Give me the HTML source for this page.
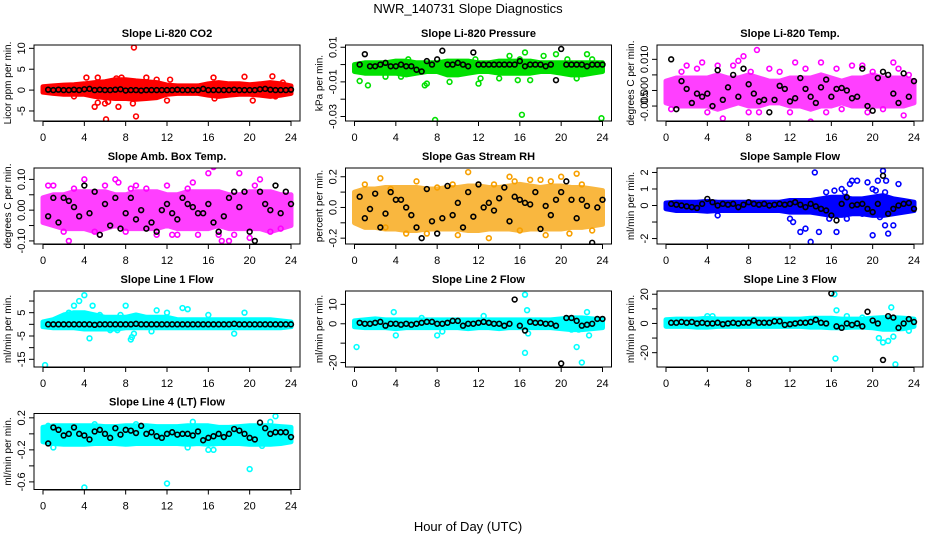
<!DOCTYPE html>
<html><head><meta charset="utf-8">
<style>
html,body{margin:0;padding:0;background:#fff;}
svg{display:block;font-family:"Liberation Sans",Arial,sans-serif;}
</style></head>
<body>
<svg id="chart" width="936" height="540" viewBox="0 0 936 540" xmlns="http://www.w3.org/2000/svg">
<text x="468" y="13" text-anchor="middle" font-size="13">NWR_140731  Slope Diagnostics</text>
<text x="468" y="531" text-anchor="middle" font-size="13">Hour of Day (UTC)</text>
</svg>
<script>
const bandHours=[0,1,2,3,4,5,6,7,8,9,10,11,12,13,14,15,16,17,18,19,20,21,22,23,24];
const blkHours=[0.5,1,1.5,2,2.5,3,3.5,4,4.5,5,5.5,6,6.5,7,7.5,8,8.5,9,9.5,10,10.5,11,11.5,12,12.5,13,13.5,14,14.5,15,15.5,16,16.5,17,17.5,18,18.5,19,19.5,20,20.5,21,21.5,22,22.5,23,23.5,24];
const xTicks=[0,4,8,12,16,20,24];

const co2Hi=[0.8,1,1.2,1.3,1.5,1.8,2,2.5,2.5,2.2,2,1.8,1.2,1,1,1,1.5,1.8,1.5,1.5,1.3,1.5,1.8,1.5,1];
const co2Lo=[-0.5,-0.8,-1,-1,-1,-1.5,-1.8,-2,-2,-2.2,-2,-1.8,-1,-0.8,-0.8,-0.8,-1.2,-1.5,-1.2,-1,-1,-1.2,-1.5,-1.2,-0.8];
const co2Pts=[[4.2,3],[5,-4],[5.3,3],[5.3,-3],[6,-3.2],[6.1,-7],[6.3,-2.8],[7.1,2.8],[7.3,-4],[7.6,3],[8.8,10.2],[9,-6.3],[8.7,-3.2],[10,3],[11,2.5],[12,-2.5],[12.3,2.5],[16.5,3],[16.6,-2],[19.5,3.2],[20.3,-2.5],[22.2,3.3],[22.5,-1.5],[23.2,1.8],[3,-1.5]];
const co2Blk=[0.1,0,0.1,0,0,0.1,0,0.2,0.3,0,0.1,0,0,0.1,0.2,-0.1,0,0,-0.1,0,0,0,0,0,0,0.1,0,0,0,0,0.3,0,0,0,0,0,0.1,0,0,0,0,0.2,0.3,0.1,0,0,0,0.1];

const presHi=[0,0.001,0.001,0.001,0.002,0.002,0.001,0.001,0.001,0.002,0.002,0.002,0.001,0.001,0.002,0.002,0.002,0.002,0.001,0.001,0.001,0.001,0.001,0.001,0.001];
const presLo=[-0.004,-0.005,-0.005,-0.005,-0.005,-0.006,-0.005,-0.004,-0.004,-0.006,-0.006,-0.005,-0.004,-0.004,-0.005,-0.005,-0.005,-0.005,-0.004,-0.004,-0.005,-0.006,-0.006,-0.005,-0.004];
const presPts=[[0.3,-0.003],[0.5,-0.0095],[1.3,-0.012],[2.5,-0.004],[3,-0.007],[4.5,-0.007],[5.2,0.003],[6.8,-0.012],[7,-0.011],[7.8,-0.032],[8.2,0.001],[9.2,-0.01],[9.5,-0.005],[11.7,0.003],[12,-0.011],[12.2,-0.008],[14,-0.008],[15,0.005],[15.8,-0.009],[16,0.003],[16.2,-0.029],[16.5,0.007],[17,-0.009],[18.3,0.005],[19.5,0.006],[20.6,0.003],[21.5,-0.008],[22.5,0.006],[23,0.003],[23.9,-0.031]];
const presBlk=[0,0.006,-0.001,-0.001,0,0.001,-0.001,-0.001,0,-0.001,-0.001,-0.003,-0.004,0.002,0,0.003,0.008,0,0,0.001,0,-0.001,0.007,0,0,0,0,0,0,0,0,0.002,-0.001,0,0,0,-0.001,0,-0.009,0.009,0,0,0,0,-0.001,0,0,0];

const tempHi=[0.003,0.004,0.004,0.004,0.004,0.005,0.004,0.004,0.005,0.004,0.003,0.003,0.004,0.004,0.004,0.005,0.004,0.003,0.004,0.004,0.005,0.004,0.004,0.004,0.003];
const tempLo=[-0.004,-0.005,-0.005,-0.005,-0.005,-0.006,-0.005,-0.004,-0.005,-0.005,-0.004,-0.004,-0.005,-0.005,-0.006,-0.005,-0.005,-0.004,-0.005,-0.005,-0.005,-0.005,-0.005,-0.005,-0.004];
const tempPts=[[0.5,-0.006],[1.5,0.006],[2,0.008],[3,0.007],[3.5,0.009],[4,-0.007],[5,0.008],[5.5,-0.009],[6.5,0.008],[7,0.0095],[7.5,0.011],[8,-0.007],[8.2,0.006],[8.8,0.013],[9,-0.007],[10,0.007],[11,0.006],[12,-0.007],[12.5,0.009],[13.5,0.007],[14,-0.010],[15,0.009],[15.5,-0.007],[16.5,0.007],[17,-0.006],[18,0.008],[19,0.008],[19.5,-0.007],[20,0.006],[21,-0.006],[22,0.009],[22.5,0.007],[23,-0.008],[23.5,0.005]];
const tempBlk=[0.010,-0.006,0.003,0.0005,-0.004,-0.001,-0.002,-0.001,-0.005,0.0065,-0.003,0.001,0.005,-0.002,0.007,0.002,-0.001,-0.0035,-0.003,-0.007,-0.003,0.0015,0.0005,-0.0035,-0.0025,0.004,0.0005,-0.002,-0.004,0.001,0.0035,-0.002,0.0005,0.0008,0,-0.0025,-0.002,0.007,-0.005,-0.0065,0.004,0.006,0.005,-0.001,-0.004,0.0055,-0.002,0.003];

const ambHi=[0.04,0.05,0.05,0.06,0.06,0.06,0.06,0.05,0.05,0.06,0.06,0.06,0.05,0.05,0.06,0.06,0.06,0.06,0.05,0.05,0.06,0.06,0.06,0.05,0.05];
const ambLo=[-0.04,-0.05,-0.06,-0.06,-0.06,-0.07,-0.06,-0.05,-0.06,-0.06,-0.06,-0.06,-0.05,-0.06,-0.06,-0.06,-0.06,-0.05,-0.06,-0.06,-0.06,-0.06,-0.07,-0.06,-0.05];
const ambPts=[[0.5,0.08],[1,0.08],[2,-0.07],[2.5,-0.1],[4,0.1],[5,-0.07],[5.5,-0.08],[6,0.08],[7,0.1],[7.3,0.09],[8,-0.07],[9,0.08],[10,0.07],[11,-0.08],[12,0.08],[13,-0.08],[14,0.07],[14.5,0.09],[15,-0.08],[16,0.12],[16.5,0.14],[17,-0.08],[17.3,-0.1],[18,-0.1],[18.5,-0.08],[19,0.12],[20,-0.09],[21,0.1],[22,-0.07],[23,-0.06],[3,0.07],[8.5,0.07],[12.5,-0.08],[20.5,0.08]];
const ambBlk=[-0.02,0.04,-0.04,0.04,0.03,0.01,-0.02,0.08,-0.01,0.06,-0.08,0.02,-0.05,0.04,-0.06,-0.01,0.04,-0.03,0.0,-0.06,-0.04,-0.07,0.0,0.02,-0.01,-0.03,0.04,0.02,0.01,-0.01,-0.01,0.02,-0.04,-0.07,-0.02,0.04,0.06,0.01,0.06,-0.07,-0.1,0.06,0.02,0.0,0.08,-0.01,0.06,0.02];

const rhHi=[0.1,0.12,0.12,0.13,0.13,0.13,0.13,0.12,0.12,0.13,0.13,0.14,0.14,0.13,0.13,0.14,0.15,0.14,0.13,0.14,0.14,0.13,0.13,0.12,0.11];
const rhLo=[-0.1,-0.13,-0.13,-0.14,-0.14,-0.15,-0.15,-0.14,-0.14,-0.14,-0.14,-0.15,-0.15,-0.14,-0.14,-0.14,-0.15,-0.14,-0.14,-0.14,-0.14,-0.13,-0.13,-0.12,-0.11];
const rhPts=[[1,0.15],[2.5,0.19],[3,-0.13],[3.5,0.12],[6,0.17],[7,-0.17],[8,0.13],[9.5,0.15],[10,-0.18],[11,0.23],[12,0.15],[13,-0.2],[13.5,0.15],[15,0.2],[15.5,0.17],[16,-0.15],[17,0.18],[18,0.18],[18.5,-0.18],[20,0.2],[20.8,-0.17],[21.5,0.22],[22,0.15],[23,-0.15],[5,-0.17],[19,0.17]];
const rhBlk=[0.07,-0.07,-0.01,0.09,-0.13,-0.04,0.1,0.05,0.05,0.0,-0.05,-0.13,-0.2,0.12,-0.09,-0.17,-0.07,0.14,-0.05,0.03,-0.13,0.1,-0.06,0.15,0.0,0.03,-0.02,0.06,0.13,-0.09,0.07,0.05,0.03,0.02,0.1,-0.14,0.01,-0.05,0.05,0.1,0.17,0.05,-0.07,0.05,0.01,-0.23,0.0,0.05];

const flowHi=[0.15,0.2,0.2,0.2,0.25,0.2,0.2,0.2,0.2,0.2,0.2,0.2,0.3,0.3,0.3,0.4,0.5,0.5,0.4,0.4,0.5,0.6,0.4,0.3,0.2];
const flowLo=[-0.2,-0.3,-0.3,-0.3,-0.35,-0.3,-0.3,-0.3,-0.3,-0.3,-0.3,-0.3,-0.4,-0.4,-0.4,-0.5,-0.6,-0.6,-0.5,-0.5,-0.6,-0.6,-0.5,-0.4,-0.3];
const flowPts=[[12,-0.8],[12.3,-1],[13,-1.6],[13.5,-1.4],[14,-2.2],[14.4,2],[14.8,-1.6],[15.5,0.8],[16.3,0.9],[16.5,-1.6],[17,1],[17.3,0.8],[17.8,1.3],[18,1.5],[18.5,1.5],[17.5,-0.8],[19,-0.5],[19.5,1.4],[20,-1.8],[20,1],[20.3,0.9],[20.5,1.5],[21,2.1],[21.2,0.8],[21.3,1.5],[21.5,-1.7],[22,-1.2],[22.5,1.3],[21.2,-1.2],[20.7,-0.7],[15.8,-0.8],[5,-0.6]];
const flowBlk=[0.1,0.05,0,-0.05,-0.1,-0.15,0.1,0.4,0.2,0,0.1,0.05,0.1,-0.1,0.05,0.2,0.1,0.05,0.1,0,0.05,0.1,0.05,0.1,0.2,0.05,-0.1,0.1,-0.05,-0.2,-0.3,-0.6,-0.9,0.1,0.5,0,0.05,0.1,-0.2,-0.4,0.1,1.8,-0.5,-0.2,0,0.1,0.15,-0.2];

const l1Hi=[1,2,4,5,5,4,3,3,3,4,3,3,3,2,2,2,2,2,2,2,2,2,2,1.5,1];
const l1Lo=[-1,-1.5,-1.5,-1.5,-2,-2,-2,-2,-1.5,-1.5,-1.5,-1.5,-1.5,-1.5,-1.5,-1.5,-1.5,-1.5,-1.5,-1.5,-1.5,-1.5,-1.5,-1.5,-1];
const l1Pts=[[0.2,-17.5],[3.5,10],[4,12.5],[4.5,-6],[3,8],[4.8,8],[5.5,4],[7.5,4],[8,8],[8.5,-6.5],[8.6,-5.5],[8.8,-4],[10.5,-3],[11,6],[12,5],[13.5,7],[14,6.5],[16,4],[18.5,-4],[19.5,5],[7.2,-2.5],[2.5,5],[6.5,-2.5]];
const l1Blk=[0,0,0,0,0,0,0,0,0,-0.2,0,0,0,0,0,0,0,0.2,0,0,0,0,0,0,0,0,0,0,0,0,0,0,0,0,0,0,0.2,0,0,0,0,0,0,0,0,0,0,0];

const l2Hi=[1.5,2,2.5,2,2,2,2,2,2,2,2,2,2,2,2,2,2,2,2,2,2.5,3,3,2.5,2];
const l2Lo=[-1.5,-2,-2,-2,-2.5,-2,-2,-2,-2,-2,-2,-2.5,-2,-2,-2.5,-2,-2,-2,-2,-2,-2.5,-3,-3,-2.5,-2];
const l2Pts=[[0.2,-12],[3.8,6],[4,-6],[6.5,3],[8,-6],[8.5,-4],[16.5,15],[16.5,-15],[16.7,7],[16.8,-5],[21.5,-12],[21.7,-3],[22,-20],[22.5,6],[22.7,-6],[21,-3],[12.5,4]];
const l2Blk=[0.5,0,0,0.5,1,-1,0,0,-0.5,0,-0.5,0,0.5,1,1,0,0,0.5,1.5,1.5,-1,0,0,0.5,1,0.5,0,0,-1,0,12.5,-1,-3.5,1,0.5,0.5,0,0,-1,-20.5,3,3,1.5,-1,-0.5,0,2.5,2.5];

const l3Hi=[2.5,3,3,3,3.5,3,3,3,3,3,3,3,3,3,3.5,3.5,3.5,3,3,3,3.5,4,4,3.5,3];
const l3Lo=[-2,-2,-2,-2.5,-2.5,-2,-2,-2,-2,-2,-2,-2,-2,-2,-2.5,-2.5,-3,-3,-2.5,-2.5,-3,-4,-4,-3.5,-2];
const l3Pts=[[16.3,20],[16.4,-24],[16.5,9],[20.6,-10],[21,-13],[21.5,-12],[21.8,11],[22,-9],[22.2,-28],[4,5],[4.5,5],[23.5,-5],[17.5,5],[19,4]];
const l3Blk=[0.5,0.5,1,0.5,1,0,0.5,0,0,0.5,-0.5,0,0.5,0,0.5,0.5,2,0.5,0.5,0.5,1.5,1.5,-1,-0.5,0,0.5,0.5,1,2.5,0.5,0,20.5,-2,-3,0,-1,0,-2,8,2,0,-25,5,4,-3,0,3,1];

const l4Hi=[0.08,0.1,0.1,0.1,0.1,0.1,0.09,0.09,0.1,0.1,0.1,0.09,0.09,0.09,0.1,0.1,0.1,0.08,0.08,0.09,0.1,0.1,0.1,0.09,0.08];
const l4Lo=[-0.1,-0.12,-0.13,-0.13,-0.13,-0.12,-0.12,-0.12,-0.13,-0.12,-0.12,-0.12,-0.12,-0.12,-0.13,-0.12,-0.13,-0.12,-0.12,-0.12,-0.13,-0.13,-0.13,-0.12,-0.1];
const l4Pts=[[4,-0.67],[12,-0.62],[20,-0.44],[22.5,0.22],[22,0.15],[1,-0.17],[14.5,0.15],[16.5,-0.2],[16,-0.2],[14,-0.17],[21.2,-0.15],[9,0.12],[5,0.12],[0.5,0.1]];
const l4Blk=[-0.12,0.08,0.05,-0.02,0.0,0.08,0.0,-0.02,-0.07,0.03,0.05,0.0,-0.05,0.07,-0.01,0.05,0.04,0.01,0.1,0.0,0.02,-0.03,-0.05,0.0,0.02,-0.01,0.0,0.0,-0.02,0.03,-0.08,-0.05,-0.03,0.0,-0.04,0.0,0.06,0.04,0.0,-0.05,-0.07,0.14,0.07,0.0,0.02,0.02,0.02,-0.04];

const NS="http://www.w3.org/2000/svg";
const svg=document.getElementById('chart');
function mk(tag,attrs,parent){const e=document.createElementNS(NS,tag);for(const k in attrs)e.setAttribute(k,attrs[k]);(parent||svg).appendChild(e);return e;}

const colLeft=[34,345.5,657], rowTop=[45,168,291,413.5], boxW=266, boxH=76;
const panels=[
 {key:'co2',title:'Slope Li-820 CO2',ylab:'Licor ppm per min.',c:0,r:0,yMax:10.8,yMin:-7.4,ticks:[-5,0,5,10],labels:['-5','0','5','10'],col:'#ff0000',op:1,hi:co2Hi,lo:co2Lo,pts:co2Pts,blk:co2Blk},
 {key:'pressure',title:'Slope Li-820 Pressure',ylab:'kPa per min.',c:1,r:0,yMax:0.0113,yMin:-0.0326,ticks:[0.01,0,-0.01,-0.02,-0.03],labels:['0.01','','-0.01','','-0.03'],col:'#00e000',op:1,hi:presHi,lo:presLo,pts:presPts,blk:presBlk},
 {key:'temp',title:'Slope Li-820 Temp.',ylab:'degrees C per min.',c:2,r:0,yMax:0.0146,yMin:-0.0098,ticks:[0.01,0.005,0,-0.005],labels:['0.010','','0.000','-0.005'],col:'#ff00ff',op:0.75,hi:tempHi,lo:tempLo,pts:tempPts,blk:tempBlk},
 {key:'amb-temp',title:'Slope Amb. Box Temp.',ylab:'degrees C per min.',c:0,r:1,yMax:0.137,yMin:-0.110,ticks:[0.1,0.05,0,-0.05,-0.1],labels:['0.10','','0.00','','-0.10'],col:'#ff00ff',op:0.75,hi:ambHi,lo:ambLo,pts:ambPts,blk:ambBlk},
 {key:'rh',title:'Slope Gas Stream RH',ylab:'percent per min.',c:1,r:1,yMax:0.257,yMin:-0.238,ticks:[0.2,0.1,0,-0.1,-0.2],labels:['0.2','','0.0','','-0.2'],col:'#f7a000',op:0.75,hi:rhHi,lo:rhLo,pts:rhPts,blk:rhBlk},
 {key:'sample-flow',title:'Slope Sample Flow',ylab:'ml/min per min.',c:2,r:1,yMax:2.27,yMin:-2.33,ticks:[2,1,0,-1,-2],labels:['2','1','0','','-2'],col:'#0000ff',op:1,hi:flowHi,lo:flowLo,pts:flowPts,blk:flowBlk},
 {key:'line1',title:'Slope Line 1 Flow',ylab:'ml/min per min.',c:0,r:2,yMax:14.3,yMin:-18.3,ticks:[10,5,0,-5,-10,-15],labels:['','5','','-5','','-15'],col:'#00ffff',op:1,hi:l1Hi,lo:l1Lo,pts:l1Pts,blk:l1Blk},
 {key:'line2',title:'Slope Line 2 Flow',ylab:'ml/min per min.',c:1,r:2,yMax:16.9,yMin:-22.3,ticks:[10,0,-10,-20],labels:['10','0','','-20'],col:'#00ffff',op:1,hi:l2Hi,lo:l2Lo,pts:l2Pts,blk:l2Blk},
 {key:'line3',title:'Slope Line 3 Flow',ylab:'ml/min per min.',c:2,r:2,yMax:22.2,yMin:-29.8,ticks:[20,10,0,-10,-20],labels:['20','','0','','-20'],col:'#00ffff',op:1,hi:l3Hi,lo:l3Lo,pts:l3Pts,blk:l3Blk},
 {key:'line4',title:'Slope Line 4 (LT) Flow',ylab:'ml/min per min.',c:0,r:3,yMax:0.254,yMin:-0.695,ticks:[0.2,0,-0.2,-0.4,-0.6],labels:['0.2','','-0.2','','-0.6'],col:'#00ffff',op:1,hi:l4Hi,lo:l4Lo,pts:l4Pts,blk:l4Blk}
];

panels.forEach(p=>{
  const L=colLeft[p.c], T=rowTop[p.r], B=T+boxH;
  const xs=h=>L+9+h/24*248;
  const ys=v=>T+(p.yMax-v)/(p.yMax-p.yMin)*boxH;
  const g=mk('g',{});
  
  
  const t=mk('text',{x:L+boxW/2,y:T-8,'text-anchor':'middle','font-size':'11','font-weight':'bold'},g);
  t.textContent=p.title;
  
  
  const clip=mk('clipPath',{id:'clip-'+p.key},g);
  mk('rect',{x:L,y:T,width:boxW,height:boxH},clip);
  const plot=mk('g',{'clip-path':'url(#clip-'+p.key+')'},g);
  
  
  let d='';
  bandHours.forEach((h,i)=>{d+=(i?'L':'M')+xs(h).toFixed(1)+','+ys(p.hi[i]).toFixed(1);});
  for(let i=bandHours.length-1;i>=0;i--){d+='L'+xs(bandHours[i]).toFixed(1)+','+ys(p.lo[i]).toFixed(1);}
  const band=mk('path',{d:d+'Z',fill:p.col,stroke:p.col,'stroke-width':'5','stroke-linejoin':'round',opacity:p.op},plot);
  
  
  p.pts.forEach(pt=>{
    const c=mk('circle',{cx:xs(pt[0]),cy:ys(pt[1]),r:2.4,fill:'none',stroke:p.col,'stroke-width':'1.6'},plot);
    
    
  });
  p.blk.forEach((v,i)=>{
    const c=mk('circle',{cx:xs(blkHours[i]),cy:ys(v),r:2.4,fill:'none',stroke:'#000','stroke-width':'1.6'},plot);
    
    
  });
  const box=mk('rect',{x:L,y:T,width:boxW,height:boxH,fill:'none',stroke:'#000','stroke-width':'1'},g);
  
  
  mk('line',{x1:xs(0),x2:xs(24),y1:B+0.5,y2:B+0.5,stroke:'#000'},g);
  xTicks.forEach(h=>{
    mk('line',{x1:xs(h),x2:xs(h),y1:B,y2:B+5,stroke:'#000'},g);
    const tl=mk('text',{x:xs(h),y:B+20,'text-anchor':'middle','font-size':'11'},g);
    tl.textContent=h;
    
    
  });
  p.ticks.forEach((v,i)=>{
    mk('line',{x1:L-5,x2:L,y1:ys(v),y2:ys(v),stroke:'#000'},g);
    if(p.labels[i]){
      const yl=mk('text',{x:0,y:0,'text-anchor':'middle','font-size':'11',transform:'translate('+(L-9)+','+ys(v)+') rotate(-90)'},g);
      yl.textContent=p.labels[i];
      
      
    }
  });
  const yt=mk('text',{x:0,y:0,'text-anchor':'middle','font-size':'10',transform:'translate('+(L-23)+','+(T+boxH/2)+') rotate(-90)'},g);
  yt.textContent=p.ylab;
  
  
});
</script>
</body></html>
